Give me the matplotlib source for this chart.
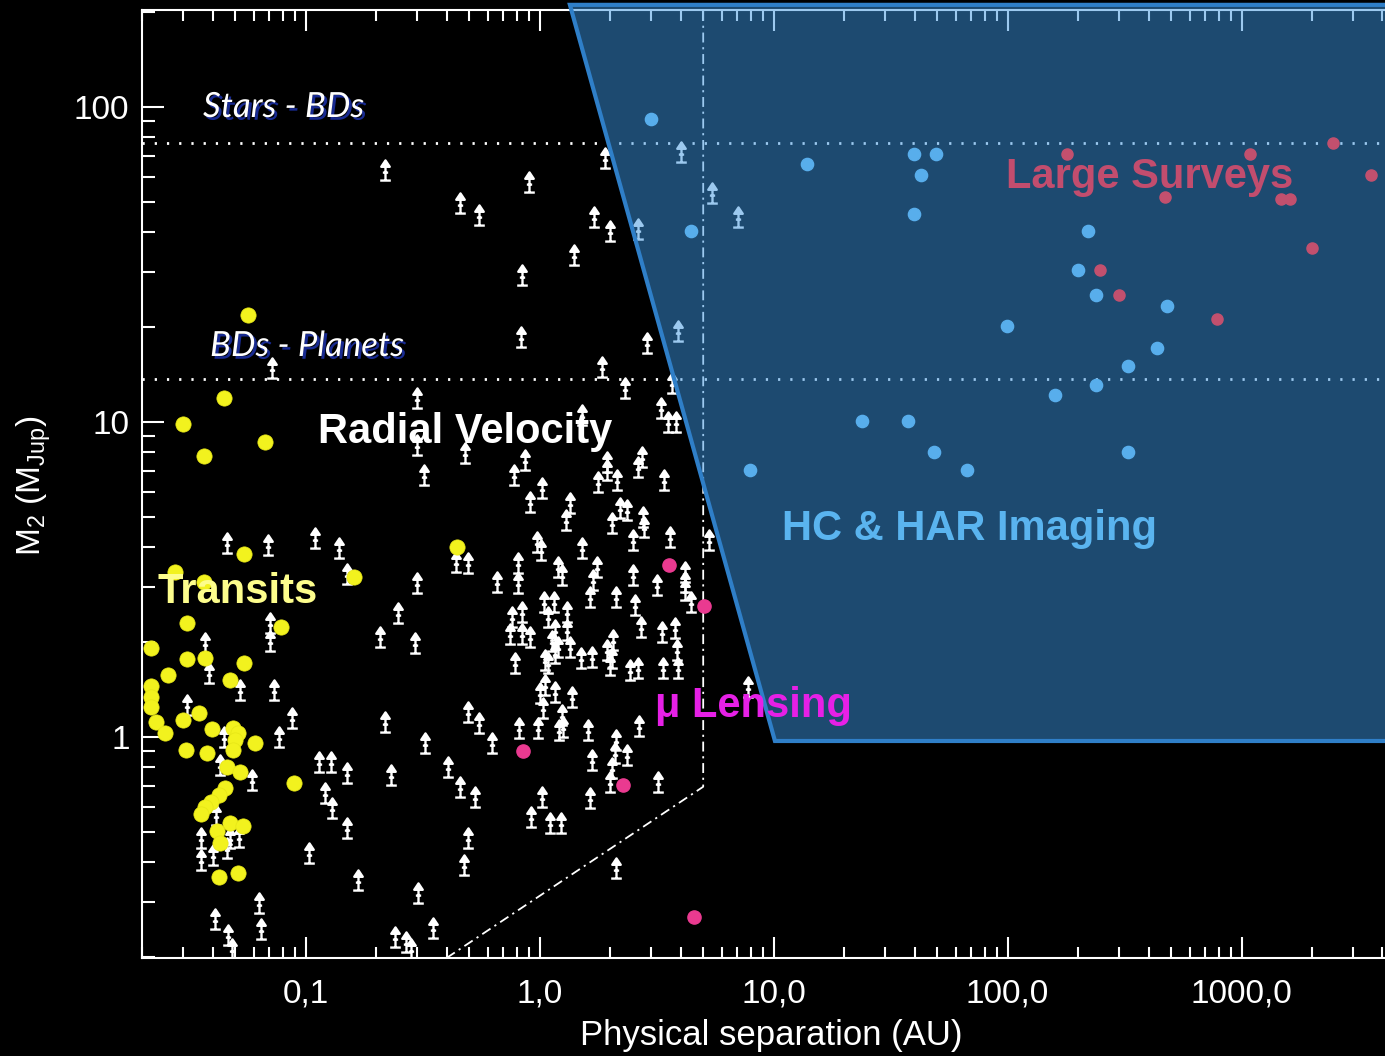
import numpy as np
import matplotlib
matplotlib.use('Agg')
import matplotlib.pyplot as plt
from matplotlib.path import Path
from matplotlib.patches import Polygon
from matplotlib.ticker import LogLocator, NullFormatter
import matplotlib.patheffects as pe

plt.rcParams['font.family'] = ['Liberation Sans', 'DejaVu Sans']
plt.rcParams['mathtext.fontset'] = 'custom'
plt.rcParams['mathtext.rm'] = 'Liberation Sans'

# radial velocity detections (m sin i, lower limits) - separation in AU, mass in MJup
rv_sep = [0.219, 0.456, 0.550, 0.900, 1.90, 1.71, 2.00, 1.40, 0.838, 0.832,
          2.87, 1.84, 2.32, 1.51, 3.30, 3.53, 3.82, 3.68, 0.0718, 0.299,
          0.299, 0.319, 0.480, 0.865, 0.779, 1.026, 0.909, 1.347, 1.291, 1.933,
          1.933, 1.780, 2.133, 2.729, 2.623, 3.408, 2.204, 2.354, 2.031, 2.771,
          2.799, 2.512, 3.604, 5.29, 0.971, 1.013, 1.512, 0.492, 0.439, 0.805,
          0.810, 0.655, 1.201, 1.249, 1.752, 1.695, 1.641, 2.112, 2.512, 2.555,
          3.181, 4.178, 4.178, 4.178, 4.432, 1.046, 1.154, 0.838, 0.759, 1.088,
          1.304, 0.747, 0.838, 0.909, 1.162, 1.304, 2.710, 3.32, 3.786, 1.125,
          1.201, 1.347, 2.063, 1.933, 3.85, 0.784, 1.054, 1.088, 1.162, 1.501,
          1.668, 2.031, 1.998, 2.431, 2.623, 3.375, 3.888, 1.054, 1.162, 1.370,
          1.003, 1.036, 1.242, 7.79, 0.492, 0.550, 0.627, 0.816, 0.986, 1.209,
          1.261, 1.613, 2.657, 2.112, 2.098, 2.354, 1.678, 2.043, 1.998, 3.193,
          0.456, 0.529, 1.026, 1.641, 0.918, 1.107, 1.233, 0.492, 0.476, 2.112,
          0.0461, 0.0690, 0.110, 0.139, 0.150, 0.299, 0.248, 0.0706, 0.0706, 0.0370,
          0.207, 0.292, 0.0387, 0.0525, 0.0730, 0.0311, 0.0874, 0.219, 0.0767, 0.0446,
          0.3225, 0.1143, 0.1286, 0.150, 0.232, 0.406, 0.0590, 0.0432, 0.1206, 0.1296,
          0.150, 0.0414, 0.0358, 0.0476, 0.0517, 0.0461, 0.0402, 0.0358, 0.1036, 0.1673,
          0.302, 0.0630, 0.0408, 0.0646, 0.0466, 0.0484, 0.240, 0.268, 0.283, 0.349,
          4.02, 5.45, 7.02, 2.62, 3.89]
rv_mass = [63.1, 49.6, 45.4, 57.8, 68.9, 44.7, 40.4, 33.9, 29.3, 18.6,
           17.8, 14.95, 12.8, 10.5, 11.1, 10.0, 10.0, 13.3, 14.8, 11.9,
           8.45, 6.79, 7.95, 7.57, 6.79, 6.16, 5.58, 5.52, 4.89, 7.48,
           7.04, 6.46, 6.54, 7.76, 7.21, 6.54, 5.32, 5.26, 4.77, 5.00,
           4.65, 4.22, 4.32, 4.22, 4.17, 3.92, 3.97, 3.56, 3.60, 3.56,
           3.08, 3.11, 3.47, 3.27, 3.47, 3.15, 2.79, 2.79, 3.27, 2.62,
           3.04, 3.35, 3.11, 2.93, 2.69, 2.69, 2.69, 2.50, 2.41, 2.41,
           2.50, 2.13, 2.13, 2.08, 2.19, 2.19, 2.24, 2.16, 2.21, 2.01,
           1.935, 1.935, 2.03, 1.889, 1.889, 1.714, 1.755, 1.714, 1.844, 1.778,
           1.799, 1.778, 1.693, 1.632, 1.652, 1.652, 1.652, 1.462, 1.393, 1.342,
           1.376, 1.233, 1.174, 1.444, 1.203, 1.105, 0.955, 1.066, 1.066, 1.052,
           1.078, 1.052, 1.084, 0.978, 0.888, 0.877, 0.845, 0.796, 0.721, 0.721,
           0.695, 0.646, 0.646, 0.639, 0.558, 0.532, 0.532, 0.477, 0.392, 0.383,
           4.12, 4.07, 4.27, 3.97, 3.29, 3.08, 2.47, 2.30, 2.01, 1.993,
           2.07, 1.993, 1.593, 1.410, 1.410, 1.264, 1.146, 1.118, 1.002, 1.0,
           0.955, 0.835, 0.835, 0.767, 0.758, 0.805, 0.730, 0.815, 0.663, 0.594,
           0.513, 0.566, 0.477, 0.477, 0.483, 0.443, 0.422, 0.407, 0.427, 0.352,
           0.319, 0.297, 0.264, 0.245, 0.235, 0.213, 0.232, 0.224, 0.213, 0.247,
           71.9, 53.3, 44.7, 41.0, 19.45]

# transiting planets
tr_sep = [0.0567, 0.0446, 0.0298, 0.0668, 0.0366, 0.0546, 0.1613, 0.443, 0.0277, 0.0366,
          0.0310, 0.0788, 0.0219, 0.0310, 0.0371, 0.0546, 0.0259, 0.0477, 0.0219, 0.0219,
          0.0219, 0.0350, 0.0229, 0.0300, 0.0250, 0.0399, 0.0487, 0.0516, 0.0499, 0.0608,
          0.0308, 0.0378, 0.0488, 0.0460, 0.0525, 0.0894, 0.0453, 0.0427, 0.0394, 0.0371,
          0.0357, 0.0476, 0.0542, 0.0419, 0.0429, 0.0427, 0.0516]
tr_mass = [21.9, 11.92, 9.86, 8.66, 7.80, 3.82, 3.23, 4.02, 3.35, 3.11,
           2.30, 2.24, 1.912, 1.762, 1.778, 1.718, 1.573, 1.520, 1.452, 1.340,
           1.245, 1.194, 1.118, 1.132, 1.030, 1.058, 1.064, 1.033, 0.978, 0.959,
           0.911, 0.888, 0.906, 0.805, 0.776, 0.715, 0.688, 0.655, 0.623, 0.600,
           0.571, 0.535, 0.522, 0.503, 0.462, 0.359, 0.370]

# microlensing
ml_sep = [3.57, 5.05, 0.851, 2.28, 4.58]
ml_mass = [3.52, 2.61, 0.903, 0.704, 0.269]

# high contrast / high angular resolution imaging
im_sep = [2.99, 13.9, 39.8, 49.4, 42.6, 39.8, 4.43, 220, 200, 238, 480,
          99.3, 435, 327, 238, 159, 23.9, 37.5, 48.4, 327, 7.92, 67.0]
im_mass = [91.6, 65.9, 70.9, 70.9, 60.8, 45.7, 40.4, 40.4, 30.4, 25.3, 23.4,
           20.2, 17.2, 15.1, 13.1, 12.2, 10.07, 10.07, 8.03, 8.03, 7.04, 7.04]

# wide companions from large surveys
ls_sep = [179, 1085, 2456, 3569, 470, 1472, 1609, 1998, 248, 299, 784]
ls_mass = [70.9, 70.9, 76.9, 60.8, 51.8, 51.0, 51.0, 35.7, 30.4, 25.3, 21.2]

# mass boundaries and detection limits
stars_bds = 77.0
bds_planets = 13.7
rv_limit_sep = [0.40, 5.0, 5.0]
rv_limit_mass = [0.1988, 0.695, 203]
imaging_sep = [1.347, 10.13, 6000, 6000]
imaging_mass = [210.8, 0.971, 0.971, 210.8]

xticks = [0.1, 1, 10, 100, 1000]
xlabels = ['0,1', '1,0', '10,0', '100,0', '1000,0']
yticks = [1, 10, 100]
ylabels = ['1', '10', '100']

W, H = 1385, 1056
fig = plt.figure(figsize=(W / 100, H / 100), dpi=100, facecolor='black')
ax = fig.add_axes([142 / W, 1 - 958 / H, 1 - 142 / W, 948 / H])
ax.set_facecolor('black')
ax.set_xscale('log')
ax.set_yscale('log')
ax.set_xlim(0.01998, 4100)
ax.set_ylim(0.1988, 203)

# arrow symbol for the lower limits
verts = [(-5, -9.5), (5, -9.5), (0, -9.5), (0, 4), (-4, 3.5), (0, 9.5), (4, 3.5),
         (-4, 3.5), (-2.5, -2), (2.5, -2)]
codes = [Path.MOVETO, Path.LINETO, Path.MOVETO, Path.LINETO, Path.MOVETO, Path.LINETO,
         Path.LINETO, Path.CLOSEPOLY, Path.MOVETO, Path.LINETO]
arrow = Path(verts, codes)

ax.plot(rv_sep, rv_mass, ls='none', marker=arrow, ms=14.5, mfc='white', mec='white',
        mew=1.7, zorder=2)
ax.plot(tr_sep, tr_mass, ls='none', marker='o', ms=11, mfc='#f2f21e', mec='#e6e616',
        mew=0.5, zorder=2.2)
ax.plot(ml_sep, ml_mass, ls='none', marker='o', ms=9.5, mfc='#ea3a90', mec='#ea3a90',
        zorder=2.2)

ax.axhline(stars_bds, color='white', lw=2.0, ls=(0, (0.8, 3.6)), zorder=2)
ax.axhline(bds_planets, color='white', lw=2.0, ls=(0, (0.8, 3.6)), zorder=2)
ax.plot(rv_limit_sep, rv_limit_mass, color='white', lw=1.3, ls=(0, (5.5, 2.6, 1.2, 2.6)),
        zorder=2)

# imaging region, half transparent on top of everything behind
poly = Polygon(list(zip(imaging_sep, imaging_mass)), closed=True,
               facecolor=(0.227, 0.58, 0.878, 0.5), edgecolor='#2f7fc8', lw=3,
               zorder=3, clip_on=False)
ax.add_patch(poly)

ax.plot(im_sep, im_mass, ls='none', marker='o', ms=8.8, mfc='#58aeec', mec='#58aeec',
        zorder=4)
ax.plot(ls_sep, ls_mass, ls='none', marker='o', ms=8, mfc='#c2506e', mec='#c2506e',
        zorder=4, clip_on=False)

# axes
ax.set_xticks(xticks, labels=xlabels)
ax.set_yticks(yticks, labels=ylabels)
ax.xaxis.set_minor_locator(LogLocator(base=10, subs=np.arange(2, 10), numticks=20))
ax.yaxis.set_minor_locator(LogLocator(base=10, subs=np.arange(2, 10), numticks=20))
ax.xaxis.set_minor_formatter(NullFormatter())
ax.yaxis.set_minor_formatter(NullFormatter())
ax.tick_params(which='both', direction='in', top=True, right=False, color='white',
               labelcolor='white', width=1.5)
ax.tick_params(axis='x', which='major', length=15, pad=15, labelsize=24)
ax.tick_params(axis='x', which='minor', length=7.7)
ax.tick_params(axis='y', which='major', length=16, pad=9, labelsize=24)
ax.tick_params(axis='y', which='minor', length=9)
for s in ['left', 'bottom', 'top']:
    ax.spines[s].set_color('white')
    ax.spines[s].set_linewidth(1.5)
ax.spines['right'].set_visible(False)

fig.text(771 / W, 1 - 1036 / H, 'Physical separation (AU)', ha='center', va='center',
         color='white', size=25)
fig.text(34 / W, 1 - 486 / H, r'M$_2$ (M$_{\mathrm{Jup}}$)', rotation=90, ha='center',
         va='center', color='white', size=24)

# labels
shadow = [pe.withSimplePatchShadow(offset=(2, -2), shadow_rgbFace='#182a90', alpha=1)]
fig.text(203 / W, 1 - 117 / H, 'Stars - BDs', family='Lato', style='italic', size=25,
         color='white', va='baseline', path_effects=shadow, zorder=5)
fig.text(210 / W, 1 - 356 / H, 'BDs - Planets', family='Lato', style='italic', size=25,
         color='white', va='baseline', path_effects=shadow, zorder=5)
fig.text(318 / W, 1 - 443 / H, 'Radial Velocity', weight='bold', size=30,
         color='white', va='baseline', zorder=5)
fig.text(158 / W, 1 - 603 / H, 'Transits', weight='bold', size=30,
         color='#fdfd8c', va='baseline', zorder=5)
fig.text(655 / W, 1 - 717 / H, '\u03bc Lensing', weight='bold', size=30,
         color='#e620e6', va='baseline', zorder=5)
fig.text(782 / W, 1 - 540 / H, 'HC & HAR Imaging', weight='bold', size=30,
         color='#5ab4ef', va='baseline', zorder=5)
fig.text(1006 / W, 1 - 188 / H, 'Large Surveys', weight='bold', size=30,
         color='#c24d6e', va='baseline', zorder=5)

fig.savefig('out.png', dpi=100, facecolor='black')
